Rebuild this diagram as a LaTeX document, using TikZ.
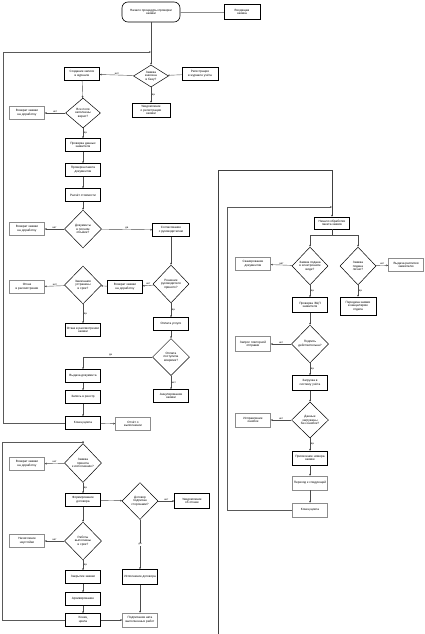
\documentclass[tikz,border=0pt]{standalone}
\usepackage{fontspec}
\setmainfont{Liberation Sans}
\usetikzlibrary{shapes.geometric, shadows, arrows.meta, positioning}
\tikzset{
  every node/.style={font=\fontsize{3.1}{3.6}\selectfont},
  term/.style={draw, line width=.6pt, rounded corners=6pt, fill=white, minimum width=58pt, minimum height=20pt, align=center, inner sep=1pt},
  proc/.style={draw, line width=.5pt, fill=white, minimum width=35pt, minimum height=13pt, align=center, inner sep=.5pt, drop shadow={shadow xshift=.8pt, shadow yshift=-.8pt, fill=black!60}},
  procg/.style={proc, draw=black!45},
  dec/.style={draw, diamond, line width=.5pt, fill=white, minimum width=37pt, minimum height=38pt, inner sep=0pt, align=center},
  lbl/.style={font=\fontsize{2.6}{3}\selectfont, inner sep=.6pt},
  conn/.style={draw=black!70, line width=.4pt, -{Stealth[length=2pt,width=1.8pt]}},
  lin/.style={draw=black!45, line width=.4pt},
}
\begin{document}
\begin{tikzpicture}[x=1pt, y=-1pt]
\useasboundingbox (0,0) rectangle (425,634);
% first block
\node (start) [term] at (151,12) {Начало процедуры проверки\\заявки};
\node (inp) [proc, minimum width=36pt, minimum height=15pt] at (242,12) {Входящая\\заявка};
\node (d1) [dec, aspect=1.6, minimum width=35pt, minimum height=22pt] at (151,76) {Заявка\\внесена\\в базу?};
\node (b1L) [proc] at (82,74) {Создание записи\\в журнале};
\node (b1R) [proc, minimum width=36pt] at (200,74) {Регистрация\\в журнале учёта};
\node (b1D) [proc, minimum width=38pt, minimum height=14pt] at (151,110) {Уведомление\\о регистрации\\заявки};
\node (d2) [dec, minimum width=35pt, minimum height=30pt] at (83,113) {Все поля\\заполнены\\верно?};
\node (b2L) [procg] at (27,113) {Возврат заявки\\на доработку};
\node (b3) [proc] at (83,145) {Проверка данных\\заявителя};
\node (b4) [proc] at (83,170) {Проверка пакета\\документов};
\node (b5) [proc] at (83,195) {Расчёт стоимости};
\node (d3) [dec] at (83,229) {Документы\\в полном\\объёме?};
\node (b3L) [procg] at (27,229) {Возврат заявки\\на доработку};
\node (b3R) [proc, minimum width=37pt] at (171,230) {Согласование\\с руководителем};
\node (d4) [dec, minimum width=36pt] at (171,284) {Решение\\руководителя\\принято?};
\node (b4L) [proc] at (125,287) {Возврат заявки\\на доработку};
\node (d5) [dec] at (83,285) {Замечания\\устранены\\в срок?};
\node (b5L) [procg] at (27,287) {Отказ\\в рассмотрении};
\node (b5D) [proc] at (83,330) {Отказ в рассмотрении\\заявки};
\node (b6) [proc] at (171,324) {Оплата услуги};
\node (d6) [dec, minimum height=37pt] at (171,357) {Оплата\\поступила\\вовремя?};
\node (b6D) [proc] at (171,396) {Аннулирование\\заявки};
\node (b7) [proc] at (83,376) {Выдача документа};
\node (b8) [proc] at (83,397) {Запись в реестр};
\node (end1) [proc] at (83,423) {Конец цикла};
\node (rep1) [procg] at (133,424) {Отчёт о\\выполнении};
% second block
\node (d7) [dec, minimum height=39pt] at (83,463) {Заявка\\принята\\к исполнению?};
\node (b7L) [procg] at (27,464) {Возврат заявки\\на доработку};
\node (c1) [proc] at (83,500) {Формирование\\договора};
\node (d8) [dec, minimum width=36pt, minimum height=37pt] at (140,501) {Договор\\подписан\\сторонами?};
\node (c1R) [proc, minimum height=15pt] at (192,501) {Уведомление\\об отказе};
\node (c2) [proc, minimum height=15pt] at (140,577) {Исполнение договора};
\node (c3) [procg, minimum height=14pt] at (140,620) {Подписание акта\\выполненных работ};
\node (d9) [dec] at (83,541) {Работы\\выполнены\\в срок?};
\node (b9L) [procg] at (27,541) {Начисление\\неустойки};
\node (c4) [proc] at (83,577) {Закрытие заявки};
\node (c5) [proc] at (83,599) {Архивирование};
\node (end2) [proc] at (83,620) {Конец\\цикла};
% right block
\node (r1) [proc, minimum height=12pt] at (332,223) {Начало обработки\\пакета заявок};
\node (dR1) [dec, minimum width=36pt] at (310,266) {Заявка подана\\в электронном\\виде?};
\node (rL1) [procg] at (253,264) {Сканирование\\документов};
\node (dR2) [dec, minimum width=36pt] at (358,266) {Заявка\\подана\\лично?};
\node (rR2) [procg] at (406,265) {Выдача расписки\\заявителю};
\node (rD2) [proc, minimum width=36pt, minimum height=18pt] at (358,306) {Передача заявки\\в канцелярию\\отдела};
\node (rD1) [proc, minimum height=15pt] at (310,305) {Проверка ЭЦП\\заявителя};
\node (dR3) [dec] at (310,344) {Подпись\\действительна?};
\node (rL3) [procg, minimum height=15pt] at (253,344) {Запрос повторной\\отправки};
\node (r4) [proc, minimum height=15pt] at (310,383) {Загрузка в\\систему учёта};
\node (dR4) [dec, minimum height=36pt] at (310,420) {Данные\\загружены\\без ошибок?};
\node (rL4) [procg, minimum height=14pt] at (253,420) {Исправление\\ошибок};
\node (r5) [proc, minimum height=14pt] at (310,458) {Присвоение номера\\заявке};
\node (r6) [procg, minimum height=14pt] at (310,483) {Переход к следующей};
\node (r7) [procg, minimum height=14pt] at (310,510) {Конец цикла};
% corners of the loops
\coordinate (j1) at (151,52);
\coordinate (lp1a) at (3,423);
\coordinate (lp1b) at (3,52);
\coordinate (lp2a) at (2,620);
\coordinate (lp2b) at (2,442);
\coordinate (inR) at (218,634);
\coordinate (inRt) at (218,170);
\coordinate (jR) at (332,207);
\coordinate (lpRa) at (227,510);
\coordinate (lpRb) at (227,207);
\coordinate (sp) at (332,235);
\draw [lin] (start) -- (inp);
\draw [conn] (start) -- (d1);
\draw [conn, draw=black!65] (end1.west) -- (lp1a) -- (lp1b) -- (j1);
\path [conn]
    (b1R) edge (d1)
    (d1) edge node [lbl, above] {нет} (b1L)
    (d1) edge node [lbl, right] {да} (b1D)
    (b1L) edge (d2)
    (d2) edge node [lbl, above] {нет} (b2L)
    (d2) edge node [lbl, right] {да} (b3)
    (b3) edge (b4)
    (b4) edge (b5)
    (b5) edge (d3)
    (d3) edge node [lbl, above] {нет} (b3L)
    (d3) edge node [lbl, above] {да} (b3R)
    (b3R) edge (d4)
    (d4) edge node [lbl, above] {нет} (b4L)
    (b4L) edge (d5)
    (d5) edge node [lbl, above] {нет} (b5L)
    (d5) edge node [lbl, right] {да} (b5D)
    (d4) edge node [lbl, right] {да} (b6)
    (b6) edge (d6)
    (d6) edge node [lbl, right] {нет} (b6D)
    (b7) edge (b8)
    (b8) edge (end1)
    (end1) edge (rep1);
\draw [conn] (d6.west) -| node [lbl, above, pos=.3] {да} (b7.north);
% second block
\draw [conn, draw=black!65] (end2.west) -- (lp2a) -- (lp2b) -| (d7.north);
\path [conn]
    (d7) edge node [lbl, above] {нет} (b7L)
    (d7) edge node [lbl, right] {да} (c1)
    (c1) edge (d8)
    (c1) edge (d9)
    (d8) edge node [lbl, above] {нет} (c1R)
    (d8) edge node [lbl, fill=white] {да} (c2)
    (c2) edge (c3)
    (d9) edge node [lbl, above] {нет} (b9L)
    (d9) edge node [lbl, right] {да} (c4)
    (c4) edge (c5)
    (c5) edge (end2)
    (end2) edge (c3);
% right block
\draw [conn, draw=black!75] (inR) -- (inRt) -| (r1.north);
\draw [conn, draw=black!65] (r7.west) -- (lpRa) -- (lpRb) -- (jR);
\draw [lin, draw=black!75] (r1.south) -- (sp);
\draw [conn] (sp) -| (dR1.north);
\draw [conn] (sp) -| (dR2.north);
\path [conn]
    (dR1) edge node [lbl, above] {нет} (rL1)
    (dR1) edge node [lbl, right] {да} (rD1)
    (dR2) edge node [lbl, above] {нет} (rR2)
    (dR2) edge node [lbl, right] {да} (rD2)
    (rD1) edge (dR3)
    (dR3) edge node [lbl, above] {нет} (rL3)
    (dR3) edge node [lbl, right] {да} (r4)
    (r4) edge (dR4)
    (dR4) edge node [lbl, above] {нет} (rL4)
    (dR4) edge node [lbl, right] {да} (r5)
    (r5) edge (r6)
    (r6) edge (r7);
\end{tikzpicture}
\end{document}
